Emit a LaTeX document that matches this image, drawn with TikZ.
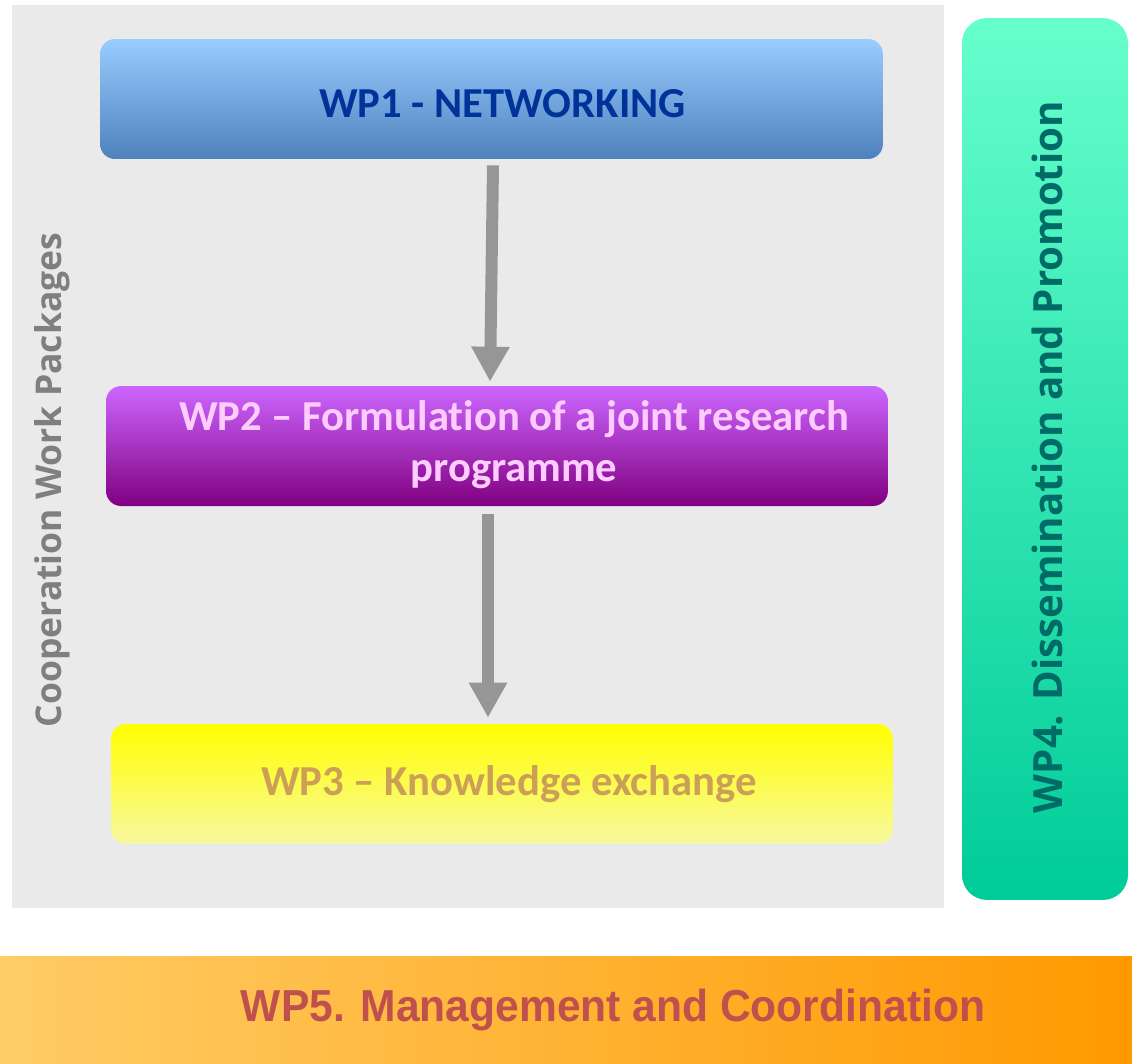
\documentclass[tikz,border=0pt]{standalone}
\usepackage{fontspec}
\setmainfont{Carlito}[Ligatures=NoCommon]
\newfontfamily\opensans{Open Sans}
\newfontfamily\arialfont{Liberation Sans}
\usetikzlibrary{positioning}
\usetikzlibrary{calc}
\usetikzlibrary{arrows.meta}

\definecolor{coopgrey}{HTML}{EAEAEA}
\definecolor{labelgrey}{HTML}{7F7F7F}
\definecolor{arrowgrey}{HTML}{969696}
\definecolor{netblue}{HTML}{003399}
\definecolor{formpink}{HTML}{FFCCFF}
\definecolor{knowtan}{HTML}{CC9F57}
\definecolor{dissteal}{HTML}{006B66}
\definecolor{mgmtred}{HTML}{C0504D}

\begin{document}
\begin{tikzpicture}[x=0.02cm, y=-0.02cm]
  \tikzstyle{wpbox}=[rectangle, rounded corners=0.3cm, minimum width=15.64cm, minimum height=2.4cm, inner sep=0pt]
  \tikzstyle{wptext}=[font=\fontsize{24.3}{29}\selectfont\bfseries, align=center]
  \tikzstyle{sidetext}=[rotate=90]
  \tikzstyle{flow}=[-{Triangle[width=0.72cm, length=0.7cm]}, line width=0.24cm, draw=arrowgrey]

  \useasboundingbox[fill=white] (0,0) rectangle (1132,1063);
  \fill[coopgrey] (12,5) rectangle (944,908);
  \node[sidetext, labelgrey, font=\opensans\fontsize{20.2}{24}\selectfont\bfseries] (coop) at (52,480) {Cooperation Work Packages};

  \node[wpbox, top color={rgb,255:red,153;green,204;blue,255}, bottom color={rgb,255:red,79;green,129;blue,189}, minimum width=15.66cm] (wp1) at (491.5,99) {};
  \node[wptext, netblue] (wp1text) at ($(wp1.center)+(11,5)$) {WP1 - NETWORKING};

  \node[wpbox, top color={rgb,255:red,204;green,102;blue,255}, bottom color={rgb,255:red,128;green,0;blue,128}] (wp2) at (497,446) {};
  \node[wptext, formpink] (wp2text) at ($(wp2.center)+(17,-1)$) {WP2 -- Formulation of a joint research\\programme};

  \node[wpbox, top color={rgb,255:red,255;green,255;blue,0}, bottom color={rgb,255:red,248;green,248;blue,160}] (wp3) at (502,784) {};
  \node[wptext, knowtan] (wp3text) at ($(wp3.center)+(7,0)$) {WP3 -- Knowledge exchange};

  \node[rectangle, rounded corners=0.5cm, minimum width=3.32cm, minimum height=17.64cm, top color={rgb,255:red,102;green,255;blue,204}, bottom color={rgb,255:red,0;green,204;blue,153}] (wp4) at (1045,459) {};
  \node[sidetext, dissteal, font=\opensans\fontsize{22.9}{27}\selectfont\bfseries] (wp4text) at ($(wp4.center)+(2,-2)$) {WP4. Dissemination and Promotion};

  \node[rectangle, minimum width=22.64cm, minimum height=2.14cm, left color={rgb,255:red,255;green,204;blue,102}, right color={rgb,255:red,255;green,153;blue,0}] (wp5) at (566,1009.5) {};
  \node[mgmtred, font=\arialfont\fontsize{25.5}{30}\selectfont\bfseries] (wp5text) at ($(wp5.center)+(47,0)$) {\scalebox{0.95}[1]{WP5. Management and Coordination}};

  \draw[flow] ($(wp1.south)+(1.5,6)$) -- ($(wp2.north)+(-7,-4)$);
  \draw[flow] ($(wp2.south)+(-9,8)$) -- ($(wp3.north)+(-14,-6)$);
\end{tikzpicture}
\end{document}
